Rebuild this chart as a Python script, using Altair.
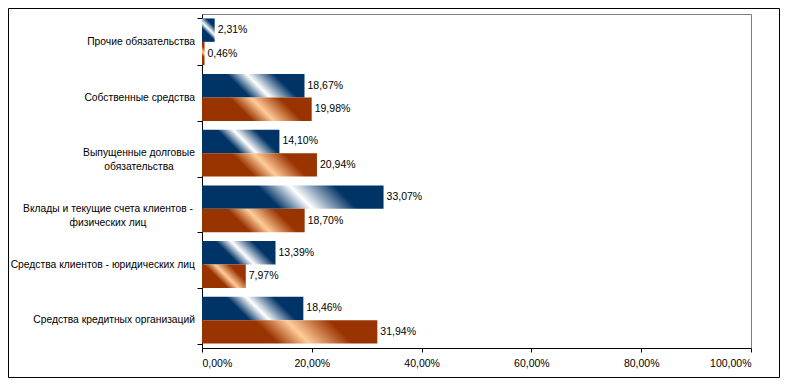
import altair as alt
import pandas as pd

# ---- data ----
categories = [
    "Прочие обязательства",
    "Собственные средства",
    "Выпущенные долговые\nобязательства",
    "Вклады и текущие счета клиентов -\nфизических лиц",
    "Средства клиентов - юридических лиц",
    "Средства кредитных организаций",
]
series_names = ["Ряд 1", "Ряд 2"]
values_1 = [2.31, 18.67, 14.10, 33.07, 13.39, 18.46]
values_2 = [0.46, 19.98, 20.94, 18.70, 7.97, 31.94]
x_ticks = [0, 20, 40, 60, 80, 100]

rows = []
for c, a, b in zip(categories, values_1, values_2):
    rows.append({"category": c, "series": series_names[0], "value": a})
    rows.append({"category": c, "series": series_names[1], "value": b})
df = pd.DataFrame(rows)
cat_df = pd.DataFrame({"category": categories})

# ---- layout ----
W, H = 549, 334
PAD_L, PAD_T, PAD_R, PAD_B = 194, 6, 29, 30
P_IN, P_OUT = 0.16, 0.08
step = H / (len(categories) - P_IN + 2 * P_OUT)
BAR_H = step * (1 - P_IN) / 2
FONT = "Liberation Sans"

# 45-degree metallic stripe gradient (like Excel), expressed in bounding-box units
K = f"({BAR_H:.3f}/max(datum.value*{W/100:.4f},0.1))"
S = f"(0.5*(1+{K})/(1+{K}*{K}))"

def stops(dark, light):
    return (f"[{{offset:0,color:'{dark}'}},{{offset:0.38,color:'{dark}'}},"
            f"{{offset:0.54,color:'{light}'}},{{offset:0.76,color:'{dark}'}},{{offset:1,color:'{dark}'}}]")

blue_stops = stops("#003366", "#ffffff")
orange_stops = stops("#993300", "#ffcc99")
grad_expr = (
    "{gradient:'linear',"
    f"x1:0.5-{S},y1:0.5+{S}*{K},x2:0.5+{S},y2:0.5-{S}*{K},"
    f"stops: datum.series==='{series_names[0]}' ? {blue_stops} : {orange_stops}}}"
)

y_enc = alt.Y(
    "category:N", sort=categories,
    scale=alt.Scale(paddingInner=P_IN, paddingOuter=P_OUT),
    axis=alt.Axis(title=None, labels=False, domainColor="black", tickColor="black",
                  tickBand="extent", tickSize=5, grid=False),
)
x_enc = alt.X(
    "value:Q", scale=alt.Scale(domain=[0, 100], nice=False),
    axis=alt.Axis(title=None, values=x_ticks, grid=False, domainColor="black",
                  tickColor="black", tickSize=4, labelPadding=6,
                  labelExpr="replace(format(datum.value, '.2f'), '.', ',') + '%'",
                  labelFont=FONT, labelFontSize=10.5, labelColor="black"),
)
yoff = alt.YOffset("series:N", sort=series_names, scale=alt.Scale(paddingInner=0, paddingOuter=0))

base = alt.Chart(df).encode(y=y_enc, x=x_enc, yOffset=yoff)

bars = base.mark_bar(fill=alt.ExprRef(expr=grad_expr), stroke=None)

labels = base.transform_calculate(
    label="replace(format(datum.value, '.2f'), '.', ',') + '%'"
).mark_text(align="left", baseline="middle", dx=3, font=FONT, fontSize=10.5, color="black").encode(
    text="label:N"
)

CAT_FS = 10.3
cat_base = alt.Chart(cat_df).encode(y=alt.Y("category:N", sort=categories), x=alt.value(0))
cat_single = cat_base.transform_filter("indexof(datum.category, '\\n') < 0").mark_text(
    align="right", baseline="middle", dx=-7, font=FONT, fontSize=CAT_FS, color="black"
).encode(text="category:N")
cat_m1 = cat_base.transform_filter(alt.datum.category == categories[2]).mark_text(
    align="center", baseline="middle", dx=-63, font=FONT, fontSize=CAT_FS, color="black",
    lineBreak="\n", lineHeight=14
).encode(text="category:N")
cat_m2 = cat_base.transform_filter(alt.datum.category == categories[3]).mark_text(
    align="center", baseline="middle", dx=-94, font=FONT, fontSize=CAT_FS, color="black",
    lineBreak="\n", lineHeight=14
).encode(text="category:N")

frame = alt.Chart(pd.DataFrame({"a": [0]})).mark_rect(
    fill="transparent", stroke="black", strokeWidth=1
).encode(
    x=alt.value(-PAD_L + 0.5), x2=alt.value(W + PAD_R - 0.5),
    y=alt.value(-PAD_T + 0.5), y2=alt.value(H + PAD_B - 0.5),
)

chart = alt.layer(frame, bars, labels, cat_single, cat_m1, cat_m2).properties(
    width=W, height=H,
    autosize=alt.AutoSizeParams(type="none"),
    padding={"left": PAD_L, "top": PAD_T, "right": PAD_R, "bottom": PAD_B},
    background="white",
).configure_view(stroke="#808080", strokeWidth=1)

chart.save("out.html", embed_options={"renderer": "svg", "actions": False})
